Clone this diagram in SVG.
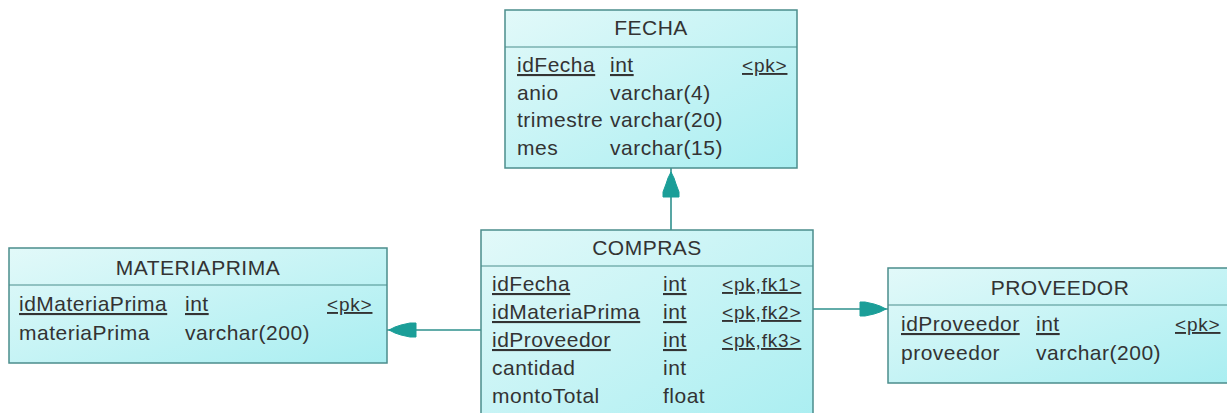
<svg xmlns="http://www.w3.org/2000/svg" width="1227" height="413" viewBox="0 0 1227 413">
<defs>
<linearGradient id="fill" x1="0" y1="0" x2="1" y2="1">
<stop offset="0" stop-color="#e2f9f9"/>
<stop offset="1" stop-color="#a9eef1"/>
</linearGradient>
<style>
.box{fill:url(#fill);stroke:#4b8d8c;stroke-width:1.5}
.div{stroke:#4b8d8c;stroke-width:1.2}
text{font-family:"Liberation Sans",Arial,sans-serif;font-size:21px;fill:#333;letter-spacing:0.5px}
.h{text-anchor:middle}
.u{text-decoration:underline}
.k{font-size:19px;letter-spacing:0.8px}
.conn{stroke:#2e908d;stroke-width:1.6;fill:none}
.ah{fill:#1b9e98;stroke:#1b9e98;stroke-width:1;stroke-linejoin:round}
</style>
</defs>
<rect width="1227" height="413" fill="#ffffff"/>
<g id="connectors">
<line class="conn" x1="671" y1="168" x2="671" y2="230"/>
<polygon class="ah" points="671,172 674,178 676,184 679,192 679,197 663,197 663,192 666,184 668,178"/>
<line class="conn" x1="387" y1="330" x2="481" y2="330"/>
<polygon class="ah" points="389,330 395,327 401,325 410,323 416,323 416,337 410,337 401,335 395,333"/>
<line class="conn" x1="813" y1="309" x2="888" y2="309"/>
<polygon class="ah" points="886,309 880,306 874,304 865,302 860,302 860,316 865,316 874,314 880,312"/>
</g>
<g id="FECHA">
<rect class="box" x="505" y="10" width="292" height="158"/>
<line class="div" x1="505" y1="47" x2="797" y2="47"/>
<text class="h" x="651" y="35">FECHA</text>
<text class="u" x="517" y="72">idFecha</text><text class="u" x="610" y="72">int</text><text class="u k" x="742" y="72">&lt;pk&gt;</text>
<text x="517" y="100">anio</text><text x="610" y="100">varchar(4)</text>
<text x="517" y="127">trimestre</text><text x="610" y="127">varchar(20)</text>
<text x="517" y="155">mes</text><text x="610" y="155">varchar(15)</text>
</g>
<g id="COMPRAS">
<rect class="box" x="481" y="230" width="332" height="200"/>
<line class="div" x1="481" y1="266" x2="813" y2="266"/>
<text class="h" x="647" y="255">COMPRAS</text>
<text class="u" x="492" y="291">idFecha</text><text class="u" x="663" y="291">int</text><text class="u k" x="722" y="291">&lt;pk,fk1&gt;</text>
<text class="u" x="492" y="319">idMateriaPrima</text><text class="u" x="663" y="319">int</text><text class="u k" x="722" y="319">&lt;pk,fk2&gt;</text>
<text class="u" x="492" y="347">idProveedor</text><text class="u" x="663" y="347">int</text><text class="u k" x="722" y="347">&lt;pk,fk3&gt;</text>
<text x="492" y="375">cantidad</text><text x="663" y="375">int</text>
<text x="492" y="403">montoTotal</text><text x="663" y="403">float</text>
</g>
<g id="MATERIAPRIMA">
<rect class="box" x="9" y="248" width="378" height="115"/>
<line class="div" x1="9" y1="285" x2="387" y2="285"/>
<text class="h" x="198" y="275">MATERIAPRIMA</text>
<text class="u" x="19" y="311">idMateriaPrima</text><text class="u" x="185" y="311">int</text><text class="u k" x="327" y="311">&lt;pk&gt;</text>
<text x="19" y="340">materiaPrima</text><text x="185" y="340">varchar(200)</text>
</g>
<g id="PROVEEDOR">
<rect class="box" x="888" y="268" width="344" height="115"/>
<line class="div" x1="888" y1="305" x2="1232" y2="305"/>
<text class="h" x="1060" y="295">PROVEEDOR</text>
<text class="u" x="901" y="331">idProveedor</text><text class="u" x="1036" y="331">int</text><text class="u k" x="1175" y="331">&lt;pk&gt;</text>
<text x="901" y="360">proveedor</text><text x="1036" y="360">varchar(200)</text>
</g>
</svg>
